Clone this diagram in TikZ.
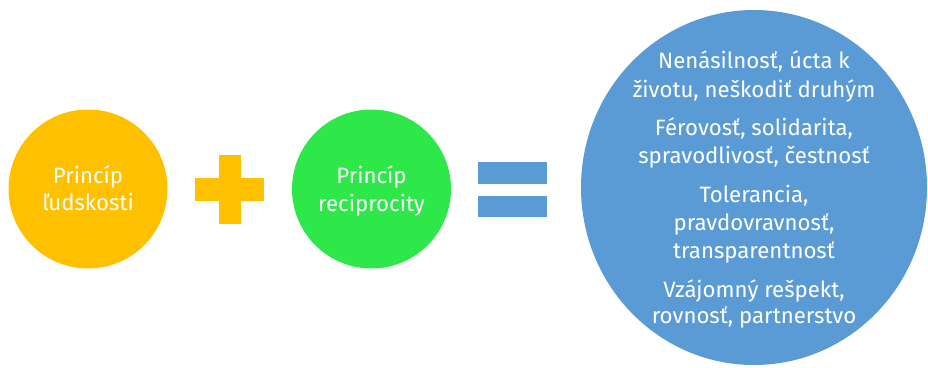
\documentclass[tikz,border=0pt]{standalone}
\usepackage{fontspec}
\setmainfont{Fira Sans}
\definecolor{cyellow}{HTML}{FFC000}
\definecolor{cgreen}{HTML}{2EE84A}
\definecolor{cblue}{HTML}{5B9BD5}
\tikzset{
  txt/.style={text=white, font=\fontsize{22.2}{26}\selectfont, anchor=base, inner sep=0pt},
  bar/.style={fill=#1, draw=none}
}
\begin{document}
\begin{tikzpicture}[x=1pt,y=-1pt]
\useasboundingbox (0,0) rectangle (928,367);
% yellow circle
\fill[cyellow] (88,189) circle[radius=79.5];
\node[txt] (y1) at (88,183) {Princíp};
\node[txt] (y2) at (88,210) {ľudskosti};
% plus
\fill[bar=cyellow] (195,178) rectangle (264,201);
\fill[bar=cyellow] (219,155) rectangle (241,224);
% green circle
\fill[cgreen] (371.5,189) circle[radius=79.5];
\node[txt] (g1) at (371.5,183) {Princíp};
\node[txt] (g2) at (371.5,211) {reciprocity};
% equals
\fill[bar=cblue] (478,162) rectangle (547,184);
\fill[bar=cblue] (478,196) rectangle (547,217);
% big circle
\fill[cblue] (754,187.5) ellipse[x radius=173, y radius=177.5];
\node[txt] (b1) at (754,68) {Nenásilnosť, úcta k};
\node[txt] (b2) at (754,97) {životu, neškodiť druhým};
\node[txt] (b3) at (754,135) {Férovosť, solidarita,};
\node[txt] (b4) at (754,163) {spravodlivosť, čestnosť};
\node[txt] (b5) at (754,202) {Tolerancia,};
\node[txt] (b6) at (754,230) {pravdovravnosť,};
\node[txt] (b7) at (754,258) {transparentnosť};
\node[txt] (b8) at (754,297) {Vzájomný rešpekt,};
\node[txt] (b9) at (754,323) {rovnosť, partnerstvo};
\end{tikzpicture}
\end{document}
